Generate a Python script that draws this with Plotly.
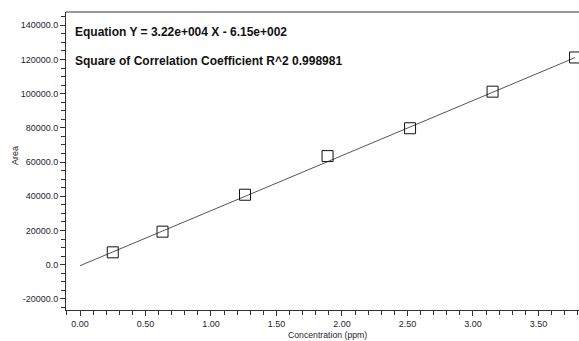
import plotly.graph_objects as go

# Calibration standards
concentration = [0.25, 0.63, 1.26, 1.89, 2.52, 3.15, 3.78]
area = [7200, 19300, 40900, 63500, 79800, 101200, 121200]

# Linear fit reported by the software
slope = 3.22e4
intercept = -6.15e2
r_squared = 0.998981
fit_x = [0.0, 3.78]
fit_y = [slope * x + intercept for x in fit_x]

# Axis tick positions and labels (plain hyphen for negatives)
x_ticks = [0.0, 0.5, 1.0, 1.5, 2.0, 2.5, 3.0, 3.5]
x_labels = ["0.00", "0.50", "1.00", "1.50", "2.00", "2.50", "3.00", "3.50"]
y_ticks = [-20000, 0, 20000, 40000, 60000, 80000, 100000, 120000, 140000]
y_labels = ["-20000.0", "0.0", "20000.0", "40000.0", "60000.0", "80000.0",
            "100000.0", "120000.0", "140000.0"]

FONT = "Liberation Sans, Arial, sans-serif"
AXIS_COLOR = "#333333"
TICK_COLOR = "#1e1e2e"

fig = go.Figure()

fig.add_trace(go.Scatter(
    x=fit_x, y=fit_y, mode="lines",
    line=dict(color="#555555", width=1),
    showlegend=False, hoverinfo="skip",
))

fig.add_trace(go.Scatter(
    x=concentration, y=area, mode="markers",
    marker=dict(symbol="square-open", size=11, color="#111111",
                line=dict(color="#111111", width=1)),
    showlegend=False,
))

fig.update_layout(
    width=579, height=341,
    margin=dict(l=66, r=0, t=12, b=31),
    paper_bgcolor="white", plot_bgcolor="white",
    font=dict(family=FONT, size=9, color=TICK_COLOR),
    xaxis=dict(
        range=[-0.107, 3.81],
        tickmode="array", tickvals=x_ticks, ticktext=x_labels,
        ticks="outside", ticklen=5, tickcolor=AXIS_COLOR, tickwidth=1,
        minor=dict(dtick=0.1, tick0=0, ticks="outside", ticklen=4,
                   tickcolor=AXIS_COLOR, tickwidth=1, showgrid=False),
        showline=True, linecolor=AXIS_COLOR, linewidth=1,
        showgrid=False, zeroline=False,
        tickfont=dict(family=FONT, size=9, color=TICK_COLOR),
    ),
    yaxis=dict(
        range=[-26530, 147800],
        tickmode="array", tickvals=y_ticks, ticktext=y_labels,
        ticks="outside", ticklen=5, tickcolor=AXIS_COLOR, tickwidth=1,
        minor=dict(dtick=5000, tick0=0, ticks="outside", ticklen=4,
                   tickcolor=AXIS_COLOR, tickwidth=1, showgrid=False),
        showline=True, linecolor=AXIS_COLOR, linewidth=1,
        showgrid=False, zeroline=False,
        tickfont=dict(family=FONT, size=9, color=TICK_COLOR),
    ),
    shapes=[dict(type="line", xref="paper", yref="paper",
                 x0=0, x1=1, y0=1, y1=1,
                 line=dict(color=AXIS_COLOR, width=1))],
    annotations=[
        dict(text=f"<b>Equation Y = {slope:.2e} X - {abs(intercept):.2e}</b>"
                  .replace("e+04", "e+004").replace("e+02", "e+002"),
             xref="paper", yref="paper", x=0.0142, y=0.934,
             xanchor="left", yanchor="middle", showarrow=False,
             font=dict(family=FONT, size=12, color="#111111")),
        dict(text=f"<b>Square of Correlation Coefficient R^2 {r_squared}</b>",
             xref="paper", yref="paper", x=0.0142, y=0.8356,
             xanchor="left", yanchor="middle", showarrow=False,
             font=dict(family=FONT, size=12, color="#111111")),
        dict(text="Area", textangle=-90,
             xref="paper", yref="paper", x=-0.0994, y=0.517,
             xanchor="center", yanchor="middle", showarrow=False,
             font=dict(family=FONT, size=9, color=TICK_COLOR)),
        dict(text="Concentration (ppm)",
             xref="paper", yref="paper", x=0.5107, y=-0.0839,
             xanchor="center", yanchor="middle", showarrow=False,
             font=dict(family=FONT, size=8.7, color=TICK_COLOR)),
    ],
)

fig.write_html("out.html")
